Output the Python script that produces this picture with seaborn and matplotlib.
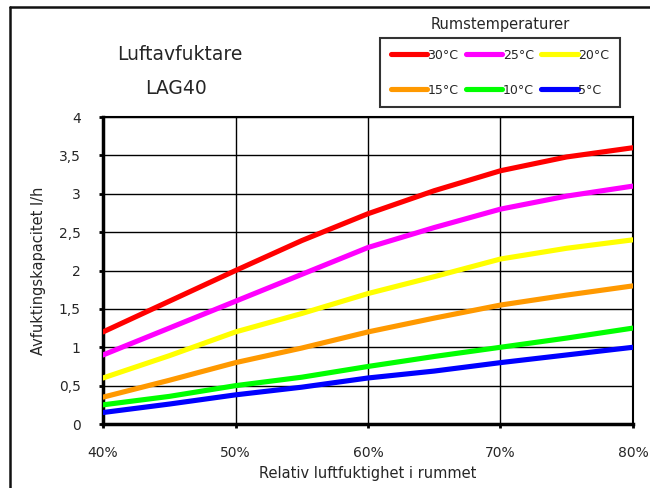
import numpy as np
import pandas as pd
import matplotlib
matplotlib.use("Agg")
import matplotlib.pyplot as plt
from matplotlib.lines import Line2D
import seaborn as sns

# Relative humidity (%)
humidity = [40, 45, 50, 55, 60, 65, 70, 75, 80]

# Dehumidifying capacity (l/h) per room temperature
cap_30 = [1.20, 1.60, 2.00, 2.39, 2.74, 3.04, 3.30, 3.48, 3.60]
cap_25 = [0.90, 1.25, 1.60, 1.95, 2.30, 2.56, 2.80, 2.97, 3.10]
cap_20 = [0.60, 0.89, 1.20, 1.44, 1.70, 1.92, 2.15, 2.29, 2.40]
cap_15 = [0.35, 0.57, 0.80, 0.99, 1.20, 1.38, 1.55, 1.68, 1.80]
cap_10 = [0.25, 0.36, 0.50, 0.61, 0.75, 0.88, 1.00, 1.12, 1.25]
cap_5 = [0.15, 0.26, 0.38, 0.48, 0.60, 0.69, 0.80, 0.90, 1.00]

temps = ["30°C", "25°C", "20°C", "15°C", "10°C", "5°C"]
colors = ["#ff0000", "#ff00ff", "#ffff00", "#ff9900", "#00ff00", "#0000ff"]

x_ticks = [40, 50, 60, 70, 80]
x_labels = ["40%", "50%", "60%", "70%", "80%"]
y_ticks = [0, 0.5, 1, 1.5, 2, 2.5, 3, 3.5, 4]
y_labels = ["0", "0,5", "1", "1,5", "2", "2,5", "3", "3,5", "4"]


def build_frame():
    rows = []
    for t, vals in zip(temps, [cap_30, cap_25, cap_20, cap_15, cap_10, cap_5]):
        for h, v in zip(humidity, vals):
            rows.append({"humidity": h, "capacity": v, "temp": t})
    return pd.DataFrame(rows)


df = build_frame()

sns.set_style("white")
plt.rcParams['font.family'] = ['DejaVu Sans']

fig = plt.figure(figsize=(6.5, 4.88), dpi=100)
ax = fig.add_axes([0.1585, 0.1311, 0.8153, 0.6291])

sns.lineplot(data=df, x="humidity", y="capacity", hue="temp",
             hue_order=temps, palette=colors, linewidth=3.7,
             ax=ax, legend=False, zorder=3)

ax.set_xlim(40, 80)
ax.set_ylim(0, 4)
ax.set_xticks(x_ticks)
ax.set_xticklabels(x_labels, fontsize=10)
ax.set_yticks(y_ticks)
ax.set_yticklabels(y_labels, fontsize=10)
ax.grid(True, color="black", linewidth=1.0)
ax.set_axisbelow(True)

for side in ["top", "right"]:
    ax.spines[side].set_linewidth(1.5)
    ax.spines[side].set_color("black")
for side in ["left", "bottom"]:
    ax.spines[side].set_linewidth(2.5)
    ax.spines[side].set_color("black")
ax.tick_params(axis="both", direction="out", length=3, width=2,
               color="black", left=True, bottom=True)
ax.tick_params(axis="y", pad=13)
ax.tick_params(axis="x", pad=13)

ax.set_xlabel("Relativ luftfuktighet i rummet", fontsize=10.5, labelpad=4)
ax.set_ylabel("Avfuktingskapacitet l/h", fontsize=10.5, labelpad=9)

# titles
fig.text(180 / 650, 1 - 54 / 488, "Luftavfuktare", fontsize=13.5,
         ha="center", va="center")
fig.text(176 / 650, 1 - 88 / 488, "LAG40", fontsize=13.5,
         ha="center", va="center")

# legend with rows 30/25/20 and 15/10/5
handles = [Line2D([0], [0], color=c, linewidth=3.7, solid_capstyle="round")
           for c in colors]
order = [0, 3, 1, 4, 2, 5]
leg = fig.legend([handles[i] for i in order], [temps[i] for i in order],
                 ncol=3, loc="upper left",
                 bbox_to_anchor=(380 / 650, 1 - 38 / 488),
                 borderaxespad=0, frameon=True, fancybox=False,
                 edgecolor="black", fontsize=9, handlelength=2.9,
                 handletextpad=0.05, columnspacing=0.6, labelspacing=1.75,
                 borderpad=0.85)
leg.get_frame().set_linewidth(1.5)
fig.text(500 / 650, 1 - 24 / 488, "Rumstemperaturer", fontsize=10.5,
         ha="center", va="center")

# outer frame
fig.add_artist(Line2D([9.5 / 650, 9.5 / 650], [0, 1 - 7 / 488],
                      transform=fig.transFigure, color="#111111", linewidth=1.8))
fig.add_artist(Line2D([9.5 / 650, 1], [1 - 7 / 488, 1 - 7 / 488],
                      transform=fig.transFigure, color="#111111", linewidth=1.8))

fig.savefig("out.png", dpi=100)
